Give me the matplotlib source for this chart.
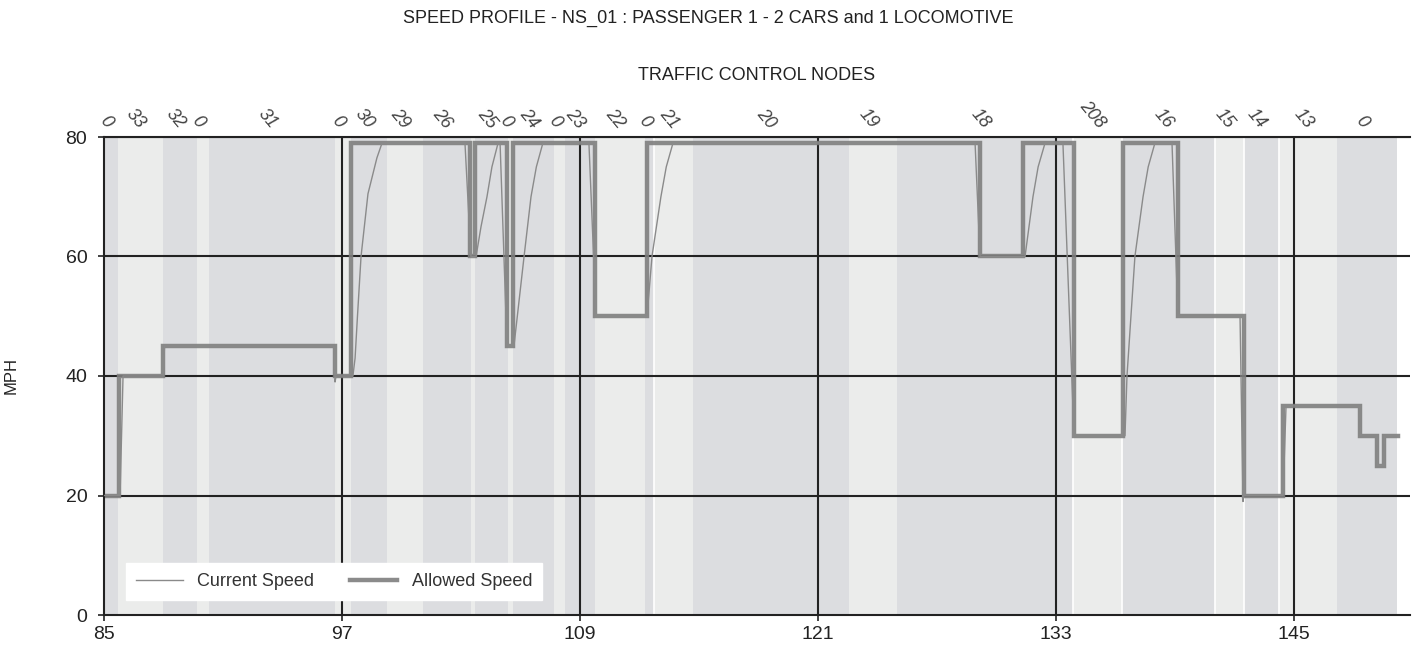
import matplotlib
matplotlib.use("Agg")
import matplotlib.pyplot as plt
from matplotlib import font_manager

# ---------------- data ----------------
node_bounds = [85.0, 85.71, 87.97, 89.69, 90.29, 96.65, 97.45, 99.27, 101.08, 103.50,
               103.71, 105.37, 105.62, 107.69, 108.24, 109.76, 112.28, 112.73, 114.70,
               122.56, 124.98, 133.86, 136.33, 141.02, 142.48, 144.25, 147.17, 150.19]
node_labels = ["0", "33", "32", "0", "31", "0", "30", "29", "26", "", "25", "0", "24",
               "0", "23", "22", "0", "21", "20", "19", "18", "208", "16", "15", "14",
               "13", "0"]
white_edges = [112.73, 133.86, 136.33, 141.02, 142.48, 144.25]

allowed_x = [85.0, 85.75, 88.0, 96.63, 97.45, 103.47, 103.72, 105.32, 105.62, 109.78,
             112.36, 129.17, 131.35, 133.92, 136.36, 139.15, 142.50, 144.43, 148.33,
             149.19, 149.54, 150.24]
allowed_y = [20, 40, 45, 40, 79, 60, 79, 45, 79, 50, 79, 60, 79, 30, 79, 50, 20, 35,
             30, 25, 30, 30]

current_x = [85.0, 85.81, 85.96, 88.0, 88.05, 96.60, 96.65, 96.70, 97.55, 97.66, 97.78,
             97.96, 98.31, 98.76, 99.02, 103.20, 103.50, 103.76, 104.01, 104.31, 104.56,
             104.87, 104.97, 105.32, 105.67, 106.18, 106.53, 106.80, 107.13, 109.45,
             109.81, 112.38, 112.63, 113.08, 113.35, 113.69, 128.92, 129.17, 131.44,
             131.84, 132.10, 132.45, 133.35, 133.91, 136.48, 136.58, 136.98, 137.39,
             137.65, 137.99, 138.85, 139.15, 142.28, 142.43, 142.46, 144.45, 144.60,
             148.33, 148.35, 149.19, 149.21, 149.54, 149.56, 150.24]
current_y = [20, 20, 40, 40, 45, 45, 39, 40, 40, 43, 50,
             60, 70.5, 76.5, 79, 79, 60, 60, 65, 70, 75,
             79, 79, 45, 45, 60, 70, 75, 79, 79,
             50, 50, 60, 70, 75, 79, 79, 60, 60,
             70, 75, 79, 79, 30, 30, 40, 60, 70,
             75, 79, 79, 50, 50, 19, 20, 20, 35,
             35, 30, 30, 25, 25, 30, 30]

x_ticks = [85, 97, 109, 121, 133, 145]
y_ticks = [0, 20, 40, 60, 80]

# ---------------- fonts ----------------
avail = {f.name for f in font_manager.fontManager.ttflist}
narrow = "Liberation Sans Narrow" if "Liberation Sans Narrow" in avail else "Liberation Sans"
plt.rcParams['font.family'] = [narrow, 'DejaVu Sans']

# ---------------- figure ----------------
fig = plt.figure(figsize=(14.19, 6.57), dpi=100)
ax = fig.add_axes([104/1419, 42/657, (1410-104)/1419, (615-137)/657])

dark = "#dcdde0"
light = "#ebeceb"
for i in range(len(node_bounds) - 1):
    ax.axvspan(node_bounds[i], node_bounds[i+1], color=(dark if i % 2 == 0 else light),
               lw=0, zorder=0)
for xw in white_edges:
    ax.axvline(xw, color="white", lw=1.2, zorder=0.5)

# grid
for yv in y_ticks[1:]:
    ax.axhline(yv, color="#222222", lw=1.5, zorder=1.5)
for xv in x_ticks[1:]:
    ax.axvline(xv, color="#222222", lw=1.5, zorder=1.5)

ax.step(allowed_x, allowed_y, where="post", color="#7f7f7f", lw=3.2, alpha=0.9,
        zorder=2, label="Allowed Speed", solid_joinstyle="miter")
ax.plot(current_x, current_y, color="#8a8a8a", lw=1.0, zorder=3, label="Current Speed")

ax.set_xlim(85, 150.85)
ax.set_ylim(0, 80)
ax.set_xticks(x_ticks)
ax.set_yticks(y_ticks)
ax.tick_params(axis="both", labelsize=14, colors="#222222", length=4, width=1.2,
               direction="out", pad=4)
ax.tick_params(axis="y", pad=8)
ax.spines["right"].set_visible(False)
for s in ["left", "bottom", "top"]:
    ax.spines[s].set_color("#222222")
    ax.spines[s].set_linewidth(1.5)

ax.set_ylabel("MPH", fontsize=12, color="#222222", labelpad=34)

# node labels along top
for i, lab in enumerate(node_labels):
    if not lab:
        continue
    mid = 0.5 * (node_bounds[i] + node_bounds[i+1]) - 0.25
    ax.text(mid, 80.9, lab, rotation=-50, ha="center", va="bottom", fontsize=13,
            color="#444444", style="italic", clip_on=False)

fig.text(0.499, 0.972, "SPEED PROFILE - NS_01 : PASSENGER 1 - 2 CARS and 1 LOCOMOTIVE",
         ha="center", va="center", fontsize=13, color="#222222")
ax.text(0.5, 1.0 + (137-75)/478, "TRAFFIC CONTROL NODES", transform=ax.transAxes,
        ha="center", va="center", fontsize=13, color="#222222")

h, l = ax.get_legend_handles_labels()
leg = ax.legend([h[1], h[0]], [l[1], l[0]], loc="lower left",
                bbox_to_anchor=(0.0168, 0.031), borderaxespad=0, ncol=2,
                fontsize=13, frameon=True, fancybox=False, framealpha=1,
                edgecolor="white", handlelength=2.6, columnspacing=2.0,
                borderpad=0.55)
for t in leg.get_texts():
    t.set_color("#333333")

fig.savefig("out.png", dpi=100)
